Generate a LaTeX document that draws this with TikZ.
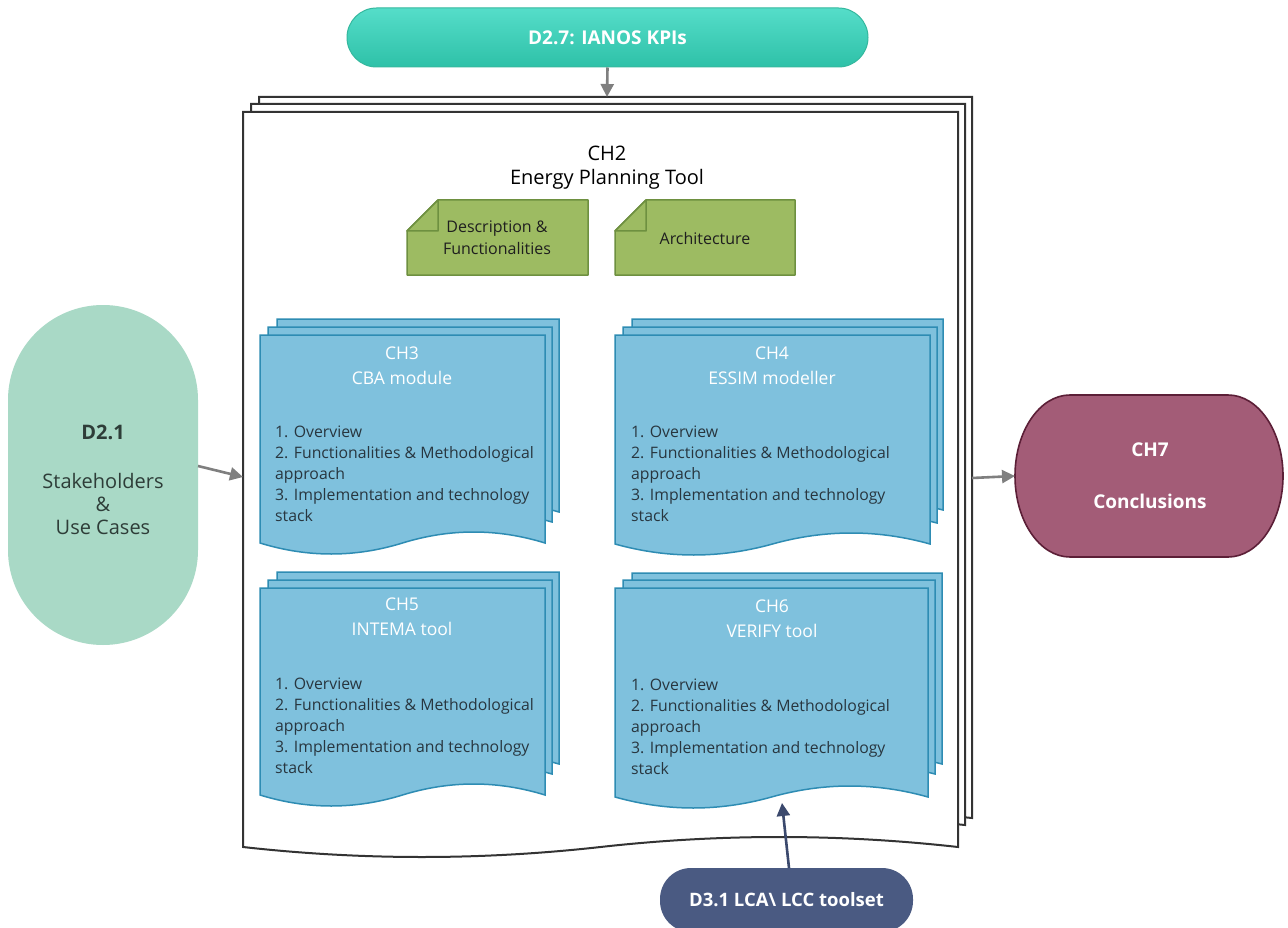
\documentclass[tikz,border=0pt]{standalone}
\usepackage{fontspec}
\setmainfont{Open Sans}
\usetikzlibrary{arrows.meta}
\definecolor{kpiTop}{HTML}{55DDC9}
\definecolor{kpiBot}{HTML}{2EC1A8}
\definecolor{kpiLine}{HTML}{34B89E}
\definecolor{mint}{HTML}{A9D9C6}
\definecolor{mintText}{HTML}{2E3D38}
\definecolor{mauve}{HTML}{A35C77}
\definecolor{mauveLine}{HTML}{5C1F37}
\definecolor{navy}{HTML}{4A5A82}
\definecolor{navyArrow}{HTML}{3B496D}
\definecolor{olive}{HTML}{9DBB62}
\definecolor{oliveLine}{HTML}{6E9040}
\definecolor{sky}{HTML}{7FC1DD}
\definecolor{skyLine}{HTML}{2E8CB3}
\definecolor{bodyText}{HTML}{28363F}
\definecolor{pageLine}{HTML}{333333}
\definecolor{arrowGray}{HTML}{7F7F7F}

\newcommand\docshape[6]{%
  \path[#1] (#2,#3) -- (#4,#3) -- (#4,#5)
   .. controls ({#4-(#4-#2)/6},{#5-4*#6/3}) and ({#4-(#4-#2)/3},{#5-4*#6/3}) .. ({(#2+#4)/2},#5)
   .. controls ({(#2+#4)/2-(#4-#2)/6},{#5+4*#6/3}) and ({#2+(#4-#2)/6},{#5+4*#6/3}) .. (#2,#5) -- cycle;}
\newcommand\notebox[5]{%
  \path[notestyle] ({#1+#5},#2) -- (#3,#2) -- (#3,#4) -- (#1,#4) -- (#1,{#2+#5}) -- cycle;
  \path[notestyle] (#1,{#2+#5}) -- ({#1+#5},{#2+#5}) -- ({#1+#5},#2) -- cycle;}

\tikzset{
  page/.style={fill=white, draw=pageLine, line width=2pt, line join=miter},
  blue/.style={fill=sky, draw=skyLine, line width=1.5pt},
  notestyle/.style={fill=olive, draw=oliveLine, line width=1.5pt, line join=round},
  garrow/.style={draw=arrowGray, line width=2.6pt, -{Triangle[length=13pt,width=13pt]}},
  ttl/.style={align=center, inner sep=0pt, font=\fontsize{17.5}{25}\selectfont},
  body/.style={align=left, anchor=north west, inner sep=0pt, text=bodyText, font=\fontsize{15.8}{21}\selectfont},
  notetxt/.style={align=center, inner sep=0pt, text=black!88, font=\fontsize{16}{22}\selectfont},
}

\begin{document}
\begin{tikzpicture}[x=1pt,y=-1pt]
\useasboundingbox[fill=white] (0,0) rectangle (1288,928);

% main stacked pages
\docshape{page}{259}{97}{972}{818}{9}
\docshape{page}{251}{104}{965}{825}{9}
\docshape{page}{243}{112}{958}{847}{10}
\coordinate (stacktop) at (607,97);
\coordinate (stackleft) at (243,477);
\coordinate (stackright) at (972,478);

\node[align=center, inner sep=0pt, font=\fontsize{20}{24}\selectfont] (ch2) at (607,168) {CH2\\Energy Planning Tool};

% notes
\notebox{407}{200}{588}{275}{31}
\node[notetxt] (desc) at (497,238) {Description \&\\Functionalities};
\notebox{615}{200}{795}{275}{31}
\node[notetxt] (arch) at (705,238) {Architecture};

% CH3
\docshape{blue}{277}{319}{559}{512}{10}
\docshape{blue}{268}{327}{552}{522}{10}
\docshape{blue}{260}{335}{545}{543}{11}
\node[ttl, text=white] (ch3) at (402,366) {CH3\\CBA module};
\node[body] (ch3b) at (275,426) {1. Overview\\2. Functionalities \& Methodological\\approach\\3. Implementation and technology\\stack};

% CH4
\docshape{blue}{632}{319}{943}{510}{10}
\docshape{blue}{623}{327}{937}{523}{10}
\docshape{blue}{615}{335}{930}{544}{11}
\node[ttl, text=white] (ch4) at (772,366) {CH4\\ESSIM modeller};
\node[body] (ch4b) at (631,426) {1. Overview\\2. Functionalities \& Methodological\\approach\\3. Implementation and technology\\stack};

% CH5
\docshape{blue}{277}{572}{559}{764}{10}
\docshape{blue}{268}{580}{552}{774}{10}
\docshape{blue}{260}{588}{545}{795}{11}
\node[ttl, text=white] (ch5) at (402,617) {CH5\\INTEMA tool};
\node[body] (ch5b) at (275,678) {1. Overview\\2. Functionalities \& Methodological\\approach\\3. Implementation and technology\\stack};

% CH6
\docshape{blue}{632}{573}{942}{764}{10}
\docshape{blue}{623}{580}{935}{774}{10}
\docshape{blue}{615}{588}{928}{797}{11}
\node[ttl, text=white] (ch6) at (772,619) {CH6\\VERIFY tool};
\node[body] (ch6b) at (631,679) {1. Overview\\2. Functionalities \& Methodological\\approach\\3. Implementation and technology\\stack};
\coordinate (ch6bottom) at (782,803);

% top pill
\node[draw=kpiLine, line width=1pt, top color=kpiTop, bottom color=kpiBot,
      rounded corners=29.5pt, minimum width=521pt, minimum height=59pt, inner sep=0pt,
      text=white, font=\bfseries\fontsize{19}{22}\selectfont] (kpi) at (607.5,37.5) {D2.7: IANOS KPIs};

% left pill
\node[fill=mint, rounded corners=95pt, minimum width=190pt, minimum height=340pt, inner sep=0pt] (d21) at (103,475) {};
\node[align=center, inner sep=0pt, text=mintText, font=\fontsize{20}{23}\selectfont] (d21t) at (103,480)
  {\textbf{D2.1}\\[26pt]Stakeholders\\\&\\Use Cases};
\coordinate (d21e) at (198,466);

% CH7 pill
\path[fill=mauve, draw=mauveLine, line width=1.6pt]
  (1070,395) -- (1228,395) arc[start angle=-90, end angle=90, x radius=55, y radius=81]
  -- (1070,557) arc[start angle=90, end angle=270, x radius=55, y radius=81] -- cycle;
\node[align=center, inner sep=0pt, text=white, font=\bfseries\fontsize{19}{22}\selectfont] (ch7) at (1150,476)
  {CH7\\[30pt]Conclusions};
\coordinate (ch7w) at (1015,476);

% D3.1 pill
\node[fill=navy, rounded corners=31pt, minimum width=253pt, minimum height=64pt, inner sep=0pt,
      text=white, font=\bfseries\fontsize{18.5}{22}\selectfont] (d31) at (786.5,900) {D3.1 LCA\textbackslash\ LCC toolset};
\coordinate (d31n) at (789,868);

% connectors
\draw[garrow] (kpi.south) -- (stacktop);
\draw[garrow] (d21e) -- (stackleft);
\draw[garrow] (stackright) -- (ch7w);
\draw[draw=navyArrow, line width=2.6pt, -{Triangle[length=13pt,width=13pt]}] (d31n) -- (ch6bottom);
\end{tikzpicture}
\end{document}
